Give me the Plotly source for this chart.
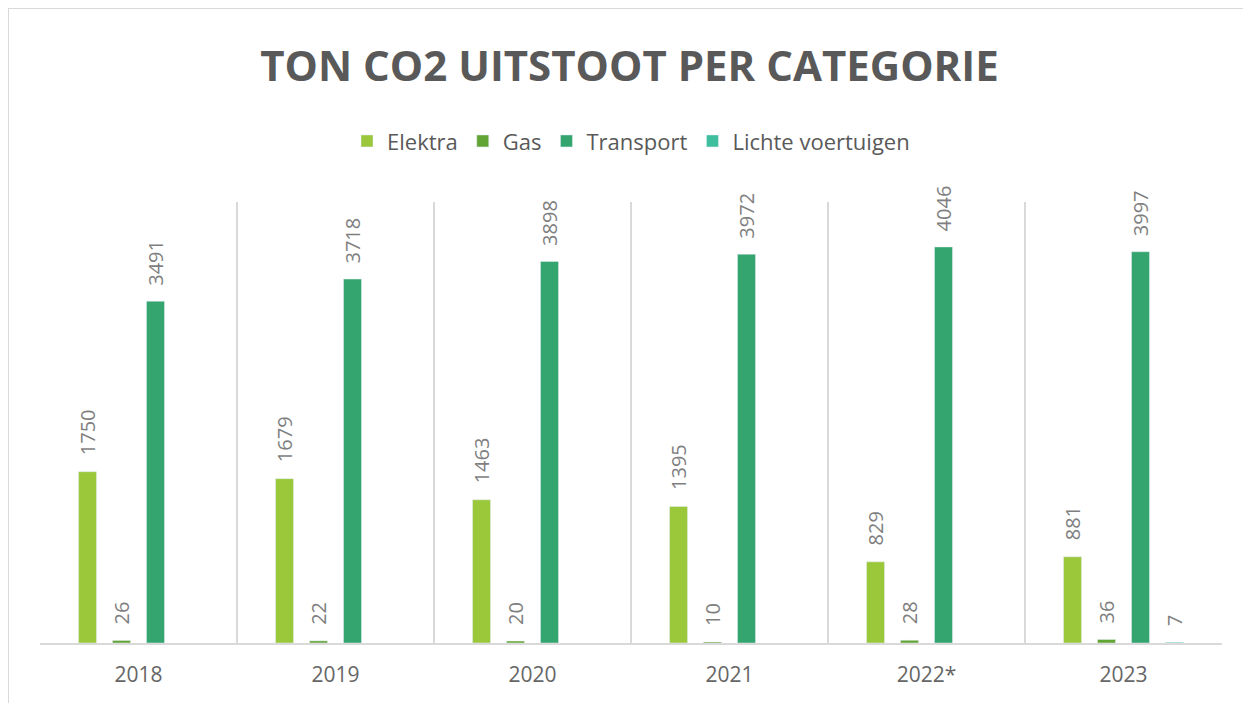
import plotly.graph_objects as go

years = ["2018", "2019", "2020", "2021", "2022*", "2023"]
elektra = [1750, 1679, 1463, 1395, 829, 881]
gas = [26, 22, 20, 10, 28, 36]
transport = [3491, 3718, 3898, 3972, 4046, 3997]
lichte = [None, None, None, None, None, 7]

series = [
    ("Elektra", elektra, "#9BC83B"),
    ("Gas", gas, "#63A534"),
    ("Transport", transport, "#34A56E"),
    ("Lichte voertuigen", lichte, "#3DBF9E"),
]

W, H = 1243, 695
ML, MR, MT, MB = 32, 29, 194, 60
plot_w = W - ML - MR
plot_h = H - MT - MB
BARGAP = 0.31
cat_px = plot_w / len(years)
slot_px = cat_px * (1 - BARGAP) / len(series)

fig = go.Figure()
for i, (name, vals, col) in enumerate(series):
    fig.add_trace(go.Bar(name=name, x=years, y=vals, marker_color=col))
    shift = (i - (len(series) - 1) / 2) * slot_px
    for j, v in enumerate(vals):
        if v is None:
            continue
        fig.add_annotation(x=j, y=v, xref="x", yref="y", text=str(v),
                           showarrow=False, textangle=-90, xanchor="center",
                           yanchor="bottom", xshift=shift, yshift=14,
                           font=dict(family="Open Sans", size=20, color="#7F7F7F"))

fig.update_layout(
    width=W, height=H,
    paper_bgcolor="white", plot_bgcolor="white",
    margin=dict(l=ML, r=MR, t=MT, b=MB),
    barmode="group", bargap=BARGAP, bargroupgap=0.47,
    title=dict(text="<b>TON CO2 UITSTOOT PER CATEGORIE</b>", x=0.5, xanchor="center",
               y=1 - 58 / H, yanchor="middle",
               font=dict(family="Open Sans", size=42, color="#595959")),
    legend=dict(orientation="h", x=0.5, xanchor="center", y=1.138, yanchor="middle",
                font=dict(family="Open Sans", size=22, color="#595959"),
                itemwidth=30, traceorder="normal"),
    font=dict(family="Open Sans", color="#595959"),
    showlegend=True,
)
fig.update_xaxes(
    type="category",
    tickson="boundaries", showgrid=True, gridcolor="#D9D9D9", gridwidth=1.5,
    showline=True, linecolor="#D9D9D9", linewidth=1.5, ticks="",
    ticklabelstandoff=12,
    tickfont=dict(family="Open Sans", size=21, color="#666666"),
    range=[-0.5, 5.5],
)
fig.update_yaxes(visible=False, range=[0, 4505], showgrid=False, zeroline=False)

# outer chart border
fig.add_shape(type="rect", xref="paper", yref="paper",
              x0=-(ML - 0) / plot_w, x1=(W - ML + 1) / plot_w,
              y0=-(MB + 20) / plot_h, y1=(plot_h + MT) / plot_h,
              line=dict(color="#D9D9D9", width=2), fillcolor="rgba(0,0,0,0)", layer="below")

fig.write_html("out.html")
